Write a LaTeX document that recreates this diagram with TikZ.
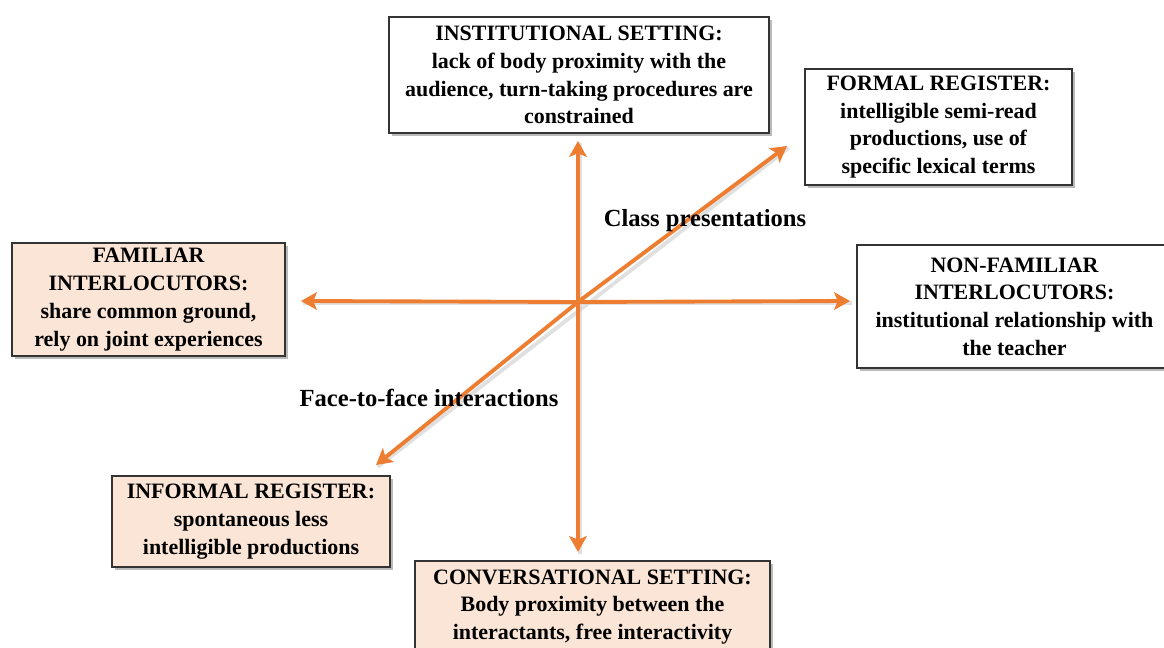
\documentclass[tikz,border=0pt]{standalone}
\usepackage{fontspec}
\setmainfont{Liberation Serif}
\usetikzlibrary{arrows.meta,shadows}
\definecolor{peach}{RGB}{251,229,214}
\definecolor{axisorange}{RGB}{237,125,49}
\tikzset{
  infobox/.style={draw=black!80, line width=0.8pt, fill=white, align=center,
    inner sep=0pt, font=\fontsize{12.5}{15.8}\selectfont\bfseries,
    drop shadow={shadow xshift=1.6pt, shadow yshift=-1.6pt, fill=black!45, opacity=0.6}},
  peachbox/.style={infobox, fill=peach},
  axis/.style={draw=axisorange, line width=2.2pt,
    -{Stealth[length=9pt,width=10pt,inset=2pt]}},
  axisshadow/.style={draw=black!20, line width=2.2pt, opacity=0.6},
  axislabel/.style={font=\fontsize{14}{16}\selectfont\bfseries, inner sep=0pt}
}
\begin{document}
\begin{tikzpicture}[x=0.02cm,y=-0.02cm]
\useasboundingbox (0,0) rectangle (1164,648);
\begin{scope}
\clip (0,0) rectangle (1164,648);
% boxes
\node[infobox, minimum width=380*0.02cm, minimum height=116*0.02cm] (inst) at (579,75)
  {INSTITUTIONAL SETTING:\\lack of body proximity with the\\audience, turn-taking procedures are\\constrained};
\node[infobox, minimum width=267*0.02cm, minimum height=116*0.02cm] (formal) at (938.5,127)
  {FORMAL REGISTER:\\intelligible semi-read\\productions, use of\\specific lexical terms};
\node[peachbox, minimum width=273*0.02cm, minimum height=113*0.02cm] (familiar) at (148.5,299.5)
  {FAMILIAR\\INTERLOCUTORS:\\share common ground,\\rely on joint experiences};
\node[infobox, minimum width=315*0.02cm, minimum height=123*0.02cm] (nonfam) at (1014.5,306.5)
  {NON-FAMILIAR\\INTERLOCUTORS:\\institutional relationship with\\the teacher};
\node[peachbox, minimum width=278*0.02cm, minimum height=91*0.02cm] (informal) at (251,521.5)
  {INFORMAL REGISTER:\\spontaneous less\\intelligible productions};
\node[peachbox, minimum width=355*0.02cm, minimum height=92*0.02cm] (conv) at (592.5,607)
  {CONVERSATIONAL SETTING:\\Body proximity between the\\interactants, free interactivity};
% axis end points
\coordinate (ctr) at (578,302);
\coordinate (up) at (578,141);
\coordinate (down) at (578,552);
\coordinate (left) at (301,301);
\coordinate (right) at (850,301);
\coordinate (dl) at (376,465);
\coordinate (ur) at (787,146);
% shadows of axes
\begin{scope}[transform canvas={shift={(1pt,-1pt)}}]
\draw[axisshadow] (up) -- (down);
\draw[axisshadow] (left) -- (right);
\draw[axisshadow] (dl) -- (ur);
\end{scope}
% axes
\draw[axis] (ctr) -- (up);
\draw[axis] (ctr) -- (down);
\draw[axis] (ctr) -- (left);
\draw[axis] (ctr) -- (right);
\draw[axis] (ctr) -- (dl);
\draw[axis] (ctr) -- (ur);
% labels
\node[axislabel] (cls) at (705,221) {Class presentations};
\node[axislabel] (f2f) at (429,398) {Face-to-face interactions};
\end{scope}
\end{tikzpicture}
\end{document}
